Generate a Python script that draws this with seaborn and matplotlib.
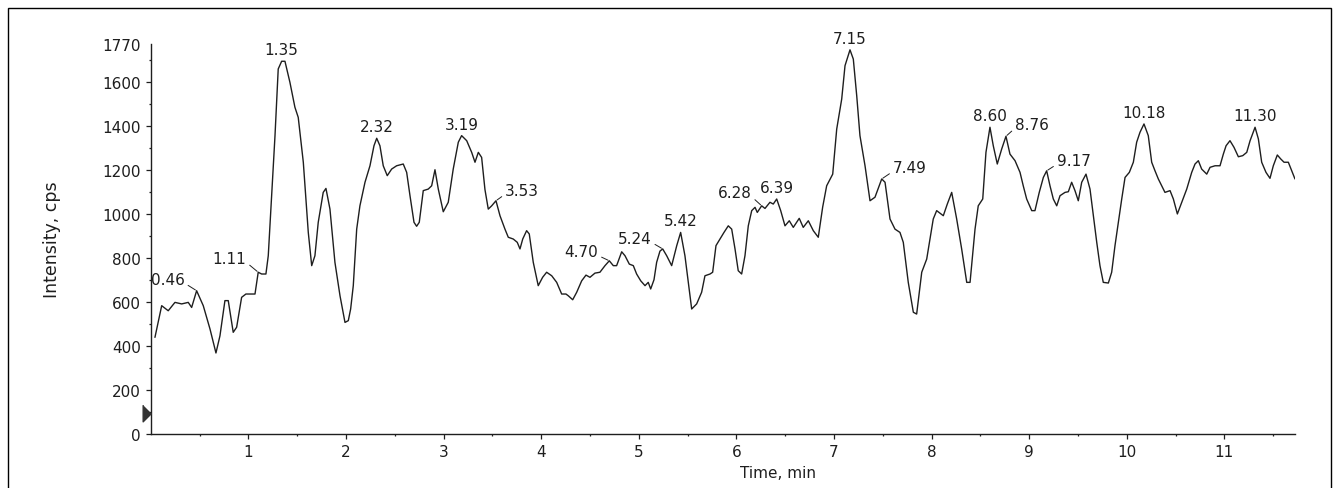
import matplotlib
matplotlib.use("Agg")
import matplotlib.pyplot as plt
from matplotlib.patches import Rectangle
import numpy as np
import pandas as pd
import seaborn as sns

# chromatogram trace (time in min, intensity in cps)
time_min = [
    0.043, 0.112, 0.179, 0.248, 0.317, 0.384, 0.419, 0.470, 0.538, 0.607,
    0.668, 0.709, 0.760, 0.794, 0.845, 0.880, 0.931, 0.975, 1.068, 1.101,
    1.136, 1.180, 1.204, 1.239, 1.273, 1.306, 1.341, 1.375, 1.426, 1.477,
    1.511, 1.563, 1.614, 1.649, 1.682, 1.716, 1.767, 1.795, 1.836, 1.887,
    1.939, 1.990, 2.024, 2.048, 2.075, 2.110, 2.143, 2.195, 2.246, 2.287,
    2.315, 2.348, 2.382, 2.423, 2.468, 2.519, 2.587, 2.622, 2.656, 2.697,
    2.724, 2.751, 2.792, 2.843, 2.878, 2.912, 2.946, 2.997, 3.048, 3.099,
    3.151, 3.185, 3.237, 3.288, 3.322, 3.356, 3.390, 3.424, 3.458, 3.493,
    3.537, 3.578, 3.629, 3.663, 3.714, 3.755, 3.783, 3.811, 3.851, 3.878,
    3.919, 3.970, 4.015, 4.056, 4.108, 4.159, 4.210, 4.254, 4.278, 4.323,
    4.364, 4.415, 4.459, 4.500, 4.551, 4.602, 4.654, 4.698, 4.739, 4.773,
    4.825, 4.859, 4.903, 4.944, 4.978, 5.020, 5.064, 5.097, 5.122, 5.156,
    5.183, 5.217, 5.245, 5.286, 5.337, 5.389, 5.429, 5.473, 5.507, 5.542,
    5.593, 5.644, 5.678, 5.730, 5.757, 5.791, 5.832, 5.873, 5.917, 5.952,
    5.986, 6.019, 6.054, 6.088, 6.122, 6.157, 6.191, 6.214, 6.259, 6.293,
    6.344, 6.378, 6.413, 6.454, 6.498, 6.542, 6.583, 6.644, 6.685, 6.737,
    6.788, 6.839, 6.884, 6.925, 6.987, 7.028, 7.079, 7.113, 7.164, 7.198,
    7.233, 7.266, 7.318, 7.369, 7.420, 7.489, 7.523, 7.574, 7.625, 7.676,
    7.710, 7.761, 7.813, 7.847, 7.899, 7.950, 8.017, 8.052, 8.120, 8.161,
    8.206, 8.257, 8.308, 8.360, 8.394, 8.445, 8.478, 8.524, 8.557, 8.598,
    8.632, 8.673, 8.718, 8.762, 8.803, 8.855, 8.906, 8.939, 8.974, 9.026,
    9.059, 9.103, 9.145, 9.179, 9.213, 9.247, 9.282, 9.316, 9.367, 9.401,
    9.435, 9.469, 9.503, 9.538, 9.582, 9.623, 9.657, 9.692, 9.725, 9.759,
    9.811, 9.845, 9.879, 9.913, 9.948, 9.982, 10.026, 10.067, 10.101, 10.135,
    10.176, 10.220, 10.255, 10.289, 10.323, 10.358, 10.391, 10.443, 10.477, 10.518,
    10.563, 10.614, 10.665, 10.699, 10.733, 10.767, 10.819, 10.853, 10.904, 10.955,
    10.989, 11.017, 11.057, 11.098, 11.143, 11.188, 11.229, 11.263, 11.314, 11.348,
    11.382, 11.426, 11.467, 11.501, 11.542, 11.577, 11.611, 11.655, 11.690, 11.723,
]
intensity = [
    438, 582, 559, 597, 590, 597, 574, 650, 582, 476,
    367, 445, 605, 605, 461, 484, 620, 635, 635, 734,
    726, 726, 809, 1082, 1355, 1658, 1693, 1693, 1597, 1484,
    1438, 1234, 915, 764, 809, 961, 1097, 1115, 1021, 779,
    627, 506, 514, 567, 673, 930, 1036, 1143, 1218, 1309,
    1343, 1309, 1218, 1173, 1203, 1218, 1226, 1188, 1082, 961,
    943, 961, 1105, 1112, 1127, 1200, 1112, 1009, 1052, 1203,
    1325, 1355, 1332, 1279, 1234, 1279, 1256, 1110, 1021, 1036,
    1059, 991, 930, 893, 885, 870, 840, 885, 923, 908,
    779, 673, 711, 734, 718, 688, 635, 635, 627, 609,
    643, 695, 721, 711, 730, 734, 764, 786, 764, 764,
    827, 809, 771, 764, 726, 695, 673, 688, 658, 700,
    779, 830, 840, 809, 764, 855, 915, 809, 688, 567,
    590, 643, 718, 726, 734, 855, 885, 915, 945, 930,
    840, 741, 726, 809, 945, 1014, 1029, 1006, 1036, 1024,
    1052, 1044, 1067, 1014, 945, 968, 938, 979, 938, 968,
    923, 893, 1030, 1127, 1180, 1385, 1521, 1673, 1745, 1703,
    1536, 1355, 1218, 1059, 1075, 1158, 1143, 976, 930, 915,
    870, 688, 552, 544, 734, 794, 976, 1014, 991, 1044,
    1097, 976, 840, 688, 688, 930, 1036, 1067, 1279, 1393,
    1309, 1226, 1294, 1352, 1271, 1241, 1188, 1127, 1067, 1014,
    1014, 1097, 1165, 1195, 1127, 1067, 1036, 1082, 1097, 1100,
    1143, 1105, 1059, 1143, 1180, 1112, 991, 870, 764, 688,
    685, 734, 855, 961, 1067, 1165, 1188, 1234, 1325, 1370,
    1408, 1355, 1234, 1195, 1158, 1127, 1097, 1105, 1067, 999,
    1052, 1112, 1188, 1226, 1241, 1203, 1180, 1211, 1218, 1218,
    1271, 1309, 1332, 1302, 1259, 1264, 1279, 1332, 1393, 1340,
    1234, 1188, 1161, 1218, 1267, 1249, 1234, 1234, 1195, 1158,
]

peak_labels = ['0.46', '1.11', '1.35', '2.32', '3.19', '3.53', '4.70', '5.24', '5.42',
               '6.28', '6.39', '7.15', '7.49', '8.60', '8.76', '9.17', '10.18', '11.30']

y_ticks = [0, 200, 400, 600, 800, 1000, 1200, 1400, 1600, 1770]
x_ticks = [1, 2, 3, 4, 5, 6, 7, 8, 9, 10, 11]

# labels placed beside the apex with a short leader (dx, dy in points); others sit above
label_place = {
    '0.46': (-8.5, 4.8), '1.11': (-8.5, 6.5), '3.53': (6.5, 4.1), '4.70': (-7.9, 3.2),
    '5.24': (-7.9, 4.1), '6.28': (-7.2, 6.0), '7.49': (7.9, 4.8), '8.76': (6.5, 5.3),
    '9.17': (7.2, 4.1),
}

ink = '#1e1e1e'
df = pd.DataFrame({'time': time_min, 'intensity': intensity})

sns.set_style('ticks')
plt.rcParams['font.family'] = ['DejaVu Sans']

fig = plt.figure(figsize=(13.4, 4.89), dpi=100)
ax = fig.add_axes([0.1125, 0.111, 0.8539, 0.7963])

sns.lineplot(data=df, x='time', y='intensity', ax=ax, color=ink, linewidth=1.0,
             estimator=None, sort=False)

ax.set_xlim(0, 11.723)
ax.set_ylim(0, 1770)

ax.set_yticks(y_ticks)
ax.set_yticklabels([str(v) for v in y_ticks])
ax.set_yticks(np.arange(100, 1770, 100), minor=True)
ax.set_xticks(x_ticks)
ax.set_xticklabels([str(v) for v in x_ticks])
ax.set_xticks(np.arange(0.5, 11.72, 1.0), minor=True)
ax.yaxis.get_major_ticks()[-1].tick1line.set_visible(False)

ax.tick_params(which='major', length=3.6, width=0.9, color=ink, labelsize=11,
               labelcolor=ink, pad=3.5)
ax.tick_params(which='minor', length=1.6, width=0.9, color=ink)
for side in ['top', 'right']:
    ax.spines[side].set_visible(False)
for side in ['left', 'bottom']:
    ax.spines[side].set_linewidth(1.0)
    ax.spines[side].set_color(ink)

ax.set_xlabel('Time, min', fontsize=11, color=ink)
ax.set_ylabel('Intensity, cps', fontsize=12.5, color=ink)
ax.xaxis.set_label_coords(0.548, -0.08)
ax.yaxis.set_label_coords(-0.0785, 0.5)

# peak labels
t_arr = np.array(time_min)
v_arr = np.array(intensity)
for lab in peak_labels:
    t0 = float(lab)
    win = np.where(np.abs(t_arr - t0) <= 0.04)[0]
    i = win[np.argmax(v_arr[win])]
    xy = (t_arr[i], v_arr[i])
    if lab in label_place:
        dx, dy = label_place[lab]
        ha = 'right' if dx < 0 else 'left'
        ax.annotate(lab, xy=xy, xytext=(dx, dy), textcoords='offset points',
                    ha=ha, va='baseline', fontsize=11, color=ink,
                    arrowprops=dict(arrowstyle='-', color=ink, lw=0.7, shrinkA=0, shrinkB=1,
                                    relpos=(1.0 if dx < 0 else 0.0, 0.25)))
    else:
        ax.annotate(lab, xy=xy, xytext=(0, 5), textcoords='offset points',
                    ha='center', va='baseline', fontsize=11, color=ink)

# small marker on the intensity axis
ax.plot([0], [92], marker=[(-1, 1), (-1, -1), (0, 0)], markersize=12, color='#333333',
        clip_on=False, zorder=5, linestyle='none')

# outer frame of the picture
fig.patches.append(Rectangle((0.006, -0.02), 0.9873, 1.0016, transform=fig.transFigure,
                             fill=False, edgecolor='black', linewidth=1.0))

fig.savefig('out.png', dpi=100, facecolor='white')
